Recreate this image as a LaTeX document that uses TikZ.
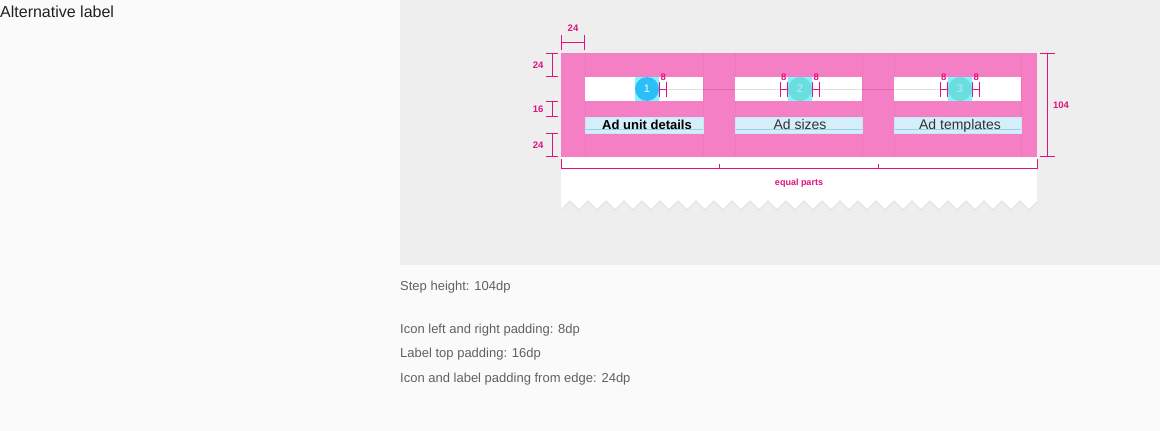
\documentclass[tikz,border=0pt]{standalone}
\usepackage{fontspec}
\setmainfont{Liberation Sans}
\definecolor{pagebg}{HTML}{FAFAFA}
\definecolor{panelbg}{HTML}{EEEEEE}
\definecolor{marginpink}{HTML}{F57FC4}
\definecolor{guidepink}{HTML}{EE78BD}
\definecolor{dimpink}{HTML}{E0127F}
\definecolor{bandblue}{HTML}{D4EEFA}
\definecolor{bandline}{HTML}{95D0EE}
\definecolor{iconblue}{HTML}{2BBFF8}
\definecolor{iconteal}{HTML}{6ADEDE}
\definecolor{iconcyan}{HTML}{80F5FF}
\definecolor{inktext}{HTML}{212121}
\definecolor{notegray}{HTML}{616161}
\usetikzlibrary{arrows.meta, positioning, calc}
\tikzset{
	steparea/.style={rectangle, fill=marginpink, inner sep=0pt, minimum width=476pt, minimum height=104pt},
	stepbar/.style={rectangle, fill=white, inner sep=0pt, minimum height=24pt},
	labelband/.style={rectangle, fill=bandblue, draw=bandline!50, line width=0.6pt, inner sep=0pt, minimum height=16pt, path picture={\draw[bandline, line width=1pt] ([yshift=3.5pt]path picture bounding box.south west) -- ([yshift=3.5pt]path picture bounding box.south east);}},
	steptext/.style={anchor=base, inner sep=0pt, font=\fontsize{14}{16}\selectfont, text=black!80},
	iconbox/.style={rectangle, fill=iconcyan, inner sep=0pt, minimum size=24pt},
	stepicon/.style={circle, inner sep=0pt, minimum size=24pt, font=\fontsize{11}{11}\selectfont},
	track/.style={draw=black, opacity=0.12, line width=1pt},
	guide/.style={draw=guidepink, line width=0.5pt},
	dimline/.style={draw=dimpink, line width=1pt, arrows={Bar[width=15pt]-Bar[width=15pt]}},
	sidedim/.style={draw=dimpink, line width=1pt, arrows={Bar[width=12pt]-Bar[width=12pt]}},
	dimlabel/.style={text=dimpink, inner sep=0pt, font=\fontsize{9.5}{10}\selectfont\bfseries},
	note/.style={anchor=west, inner sep=0pt, text=notegray, font=\fontsize{13}{15}\selectfont},
}

\begin{document}
\begin{tikzpicture}[x=1pt, y=-1pt]
	\useasboundingbox (0,0) rectangle (1160,431);
	\fill[pagebg] (0,0) rectangle (1160,431);
	\fill[panelbg] (400,0) rectangle (1160,265);
	\node[anchor=west, inner sep=0pt, text=inktext, font=\fontsize{16}{18}\selectfont] (title) at (0,12) {Alternative label};
	% torn paper under the stepper
	\begin{scope}
		\clip (561,150) rectangle (1037,215);
		\fill[white] (561,150) -- (1040,150) -- (1040,210) \foreach \k in {26,...,0} {-- ({570+18*\k},201) -- ({561+18*\k},210)} -- cycle;
		\draw[black!12, line width=0.8pt] (561,210) \foreach \k in {0,...,26} {-- ({570+18*\k},201) -- ({579+18*\k},210)};
	\end{scope}
	\node[steparea] (step) at (799,105) {};
	\foreach \gx in {585,703,735,862,894,1021}
		\draw[guide] (\gx,53) -- (\gx,157);
	\node[stepbar, minimum width=118pt] (bar1) at (644,89) {};
	\node[stepbar, minimum width=127pt] (bar2) at (798.5,89) {};
	\node[stepbar, minimum width=127pt] (bar3) at (957.5,89) {};
	\node[labelband, minimum width=118pt] (band1) at (644,125) {};
	\node[labelband, minimum width=127pt] (band2) at (798.5,125) {};
	\node[labelband, minimum width=127pt] (band3) at (957.5,125) {};
	\coordinate (c1) at (647,89);
	\coordinate (c2) at (800,89);
	\coordinate (c3) at (960,89);
	\draw[track] (c1) -- (c3);
	\foreach \n in {1,2,3}
		\node[iconbox] (box\n) at (c\n) {};
	\node[stepicon, fill=iconblue, text=white] (icon1) at (c1) {1};
	\node[stepicon, fill=iconteal, text=white!55!iconteal] (icon2) at (c2) {2};
	\node[stepicon, fill=iconteal, text=white!55!iconteal] (icon3) at (c3) {3};
	\node[steptext, font=\fontsize{13}{16}\selectfont\bfseries, text=black] (lab1) at (647,129) {Ad unit details};
	\node[steptext] (lab2) at (800,129) {Ad sizes};
	\node[steptext] (lab3) at (960,129) {Ad templates};
	% icon padding
	\draw[dimline] (box1.east) -- ([xshift=8pt]box1.east) node[dimlabel, midway, above=8pt] {8};
	\draw[dimline] ([xshift=-8pt]box2.west) -- (box2.west) node[dimlabel, midway, above=8pt] {8};
	\draw[dimline] (box2.east) -- ([xshift=8pt]box2.east) node[dimlabel, midway, above=8pt] {8};
	\draw[dimline] ([xshift=-8pt]box3.west) -- (box3.west) node[dimlabel, midway, above=8pt] {8};
	\draw[dimline] (box3.east) -- ([xshift=8pt]box3.east) node[dimlabel, midway, above=8pt] {8};
	% edge padding
	\draw[sidedim] (552,53) -- (552,77) node[dimlabel, midway, left=8pt] {24};
	\draw[sidedim] (552,101) -- (552,117) node[dimlabel, midway, left=8pt] {16};
	\draw[sidedim] (552,133) -- (552,157) node[dimlabel, midway, left=8pt] {24};
	\draw[dimline] (561,42) -- (585,42) node[dimlabel, midway, above=10pt] {24};
	\draw[dimline] (1047.5,53) -- (1047.5,157) node[dimlabel, midway, right=5pt] {104};
	% equal parts
	\draw[dimpink, line width=1pt] (561,159) -- (561,168) -- (1037,168) -- (1037,159);
	\draw[dimpink, line width=1pt] (719.5,164) -- (719.5,168) (878.5,164) -- (878.5,168);
	\node[dimlabel, font=\fontsize{9}{10}\selectfont\bfseries] (equal) at (799,183) {equal parts};
	\node[note] (n1) at (400,287) {Step height: 104dp};
	\node[note] (n2) at (400,330) {Icon left and right padding: 8dp};
	\node[note] (n3) at (400,354) {Label top padding: 16dp};
	\node[note] (n4) at (400,379) {Icon and label padding from edge: 24dp};
\end{tikzpicture}
\end{document}
